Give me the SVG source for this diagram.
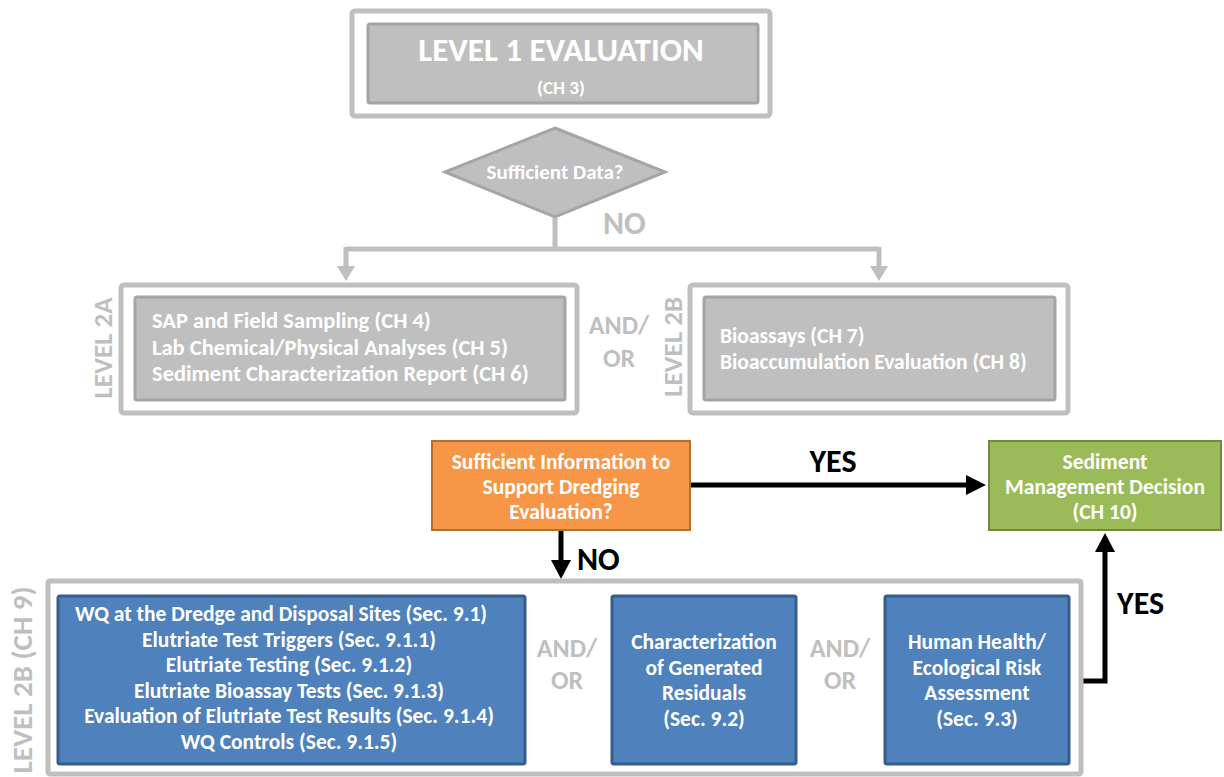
<svg xmlns="http://www.w3.org/2000/svg" width="1224" height="777" viewBox="0 0 1224 777">
<style>
text{font-family:"Carlito","Liberation Sans",Arial,sans-serif;font-weight:bold}
.w{fill:#ffffff}
.g{fill:#bfbfbf}
.k{fill:#000000}
.outer{fill:#ffffff;stroke:#bfbfbf;stroke-width:5}
.inner{fill:#bfbfbf;stroke:#a5a5a5;stroke-width:3}
.blue{fill:#4f81bd;stroke:#385d8a;stroke-width:3}
.c{text-anchor:middle}
.gl{fill:none;stroke:#bfbfbf;stroke-width:5}
.bl{fill:none;stroke:#000000;stroke-width:5}
.t{font-size:21.5px}
.t2{font-size:22.5px}
.t3{font-size:21.5px}
.lv{font-size:27px}
.ao{font-size:26px}
.big{font-size:32px}
</style>
<rect width="1224" height="777" fill="#ffffff"/>

<g id="level1">
<rect class="outer" x="352" y="11" width="418" height="105" rx="3"/>
<rect class="inner" x="368" y="24" width="390" height="79" rx="2"/>
<text class="w c" x="561" y="61" font-size="33">LEVEL 1 EVALUATION</text>
<text class="w c" x="561" y="94" font-size="19">(CH 3)</text>
</g>

<g id="decision1">
<polygon points="555,128 665,172 555,217 445,172" fill="#bfbfbf" stroke="#a5a5a5" stroke-width="3"/>
<text class="w c" x="555" y="179" font-size="21">Sufficient Data?</text>
</g>

<g id="connectors">
<path class="gl" d="M555,218 V249"/>
<path class="gl" d="M346,249 H879"/>
<path class="gl" d="M346,247 V268"/>
<polygon points="337,266 355,266 346,281" fill="#bfbfbf"/>
<path class="gl" d="M879,247 V268"/>
<polygon points="870,266 888,266 879,281" fill="#bfbfbf"/>
<text class="g big" x="603" y="234">NO</text>

<path class="bl" d="M691,485 H968"/>
<polygon points="966,475 986,485 966,495" fill="#000000"/>
<text class="k c big" x="833" y="472">YES</text>

<path class="bl" d="M561,531 V562"/>
<polygon points="551,560 571,560 561,579" fill="#000000"/>
<text class="k big" x="577" y="570">NO</text>

<path class="bl" d="M1082,681 H1105 V550"/>
<polygon points="1095,552 1115,552 1105,533" fill="#000000"/>
<text class="k big" x="1117" y="614">YES</text>
</g>

<g id="level2a">
<rect class="outer" x="121" y="285" width="456" height="128" rx="3"/>
<rect class="inner" x="135" y="297" width="430" height="103" rx="2"/>
<text class="w t2" x="152" y="328">SAP and Field Sampling (CH 4)</text>
<text class="w t2" x="152" y="354.5">Lab Chemical/Physical Analyses (CH 5)</text>
<text class="w t2" x="152" y="381">Sediment Characterization Report (CH 6)</text>
<text class="g c lv" transform="translate(112,348) rotate(-90)">LEVEL 2A</text>
</g>

<g id="andor1">
<text class="g c ao" x="619" y="334">AND/</text>
<text class="g c ao" x="619" y="367">OR</text>
</g>

<g id="level2b">
<rect class="outer" x="690" y="285" width="378" height="128" rx="3"/>
<rect class="inner" x="704" y="297" width="351" height="103" rx="2"/>
<text class="w t3" x="720" y="343">Bioassays (CH 7)</text>
<text class="w t3" x="720" y="369">Bioaccumulation Evaluation (CH 8)</text>
<text class="g c lv" transform="translate(682,347) rotate(-90)">LEVEL 2B</text>
</g>

<g id="decision2">
<rect x="432" y="441" width="258" height="89" fill="#f79646" stroke="#b66d31" stroke-width="2"/>
<text class="w c t" x="561" y="469">Sufficient Information to</text>
<text class="w c t" x="561" y="494">Support Dredging</text>
<text class="w c t" x="561" y="519">Evaluation?</text>
</g>

<g id="decision-final">
<rect x="989" y="441" width="232" height="89" fill="#9bbb59" stroke="#71893f" stroke-width="2"/>
<text class="w c t" x="1105" y="469">Sediment</text>
<text class="w c t" x="1105" y="494">Management Decision</text>
<text class="w c t" x="1105" y="519">(CH 10)</text>
</g>

<g id="level2b-ch9">
<rect class="outer" x="48" y="581" width="1033" height="193" rx="2"/>
<text class="g c" transform="translate(32,680) rotate(-90)" font-size="29">LEVEL 2B (CH 9)</text>
</g>

<g id="wq">
<rect class="blue" x="58" y="596" width="467" height="168" rx="2"/>
<text class="w c t" x="281" y="621">WQ at the Dredge and Disposal Sites (Sec. 9.1)</text>
<text class="w c t" x="289" y="647">Elutriate Test Triggers (Sec. 9.1.1)</text>
<text class="w c t" x="289" y="672">Elutriate Testing (Sec. 9.1.2)</text>
<text class="w c t" x="289" y="698">Elutriate Bioassay Tests (Sec. 9.1.3)</text>
<text class="w c t" x="289" y="723">Evaluation of Elutriate Test Results (Sec. 9.1.4)</text>
<text class="w c t" x="289" y="749">WQ Controls (Sec. 9.1.5)</text>
</g>

<g id="andor2">
<text class="g c ao" x="567" y="657">AND/</text>
<text class="g c ao" x="567" y="689">OR</text>
</g>

<g id="residuals">
<rect class="blue" x="612" y="596" width="184" height="168" rx="2"/>
<text class="w c t" x="704" y="649">Characterization</text>
<text class="w c t" x="704" y="675">of Generated</text>
<text class="w c t" x="704" y="700">Residuals</text>
<text class="w c t" x="704" y="726">(Sec. 9.2)</text>
</g>

<g id="andor3">
<text class="g c ao" x="840" y="657">AND/</text>
<text class="g c ao" x="840" y="689">OR</text>
</g>

<g id="risk">
<rect class="blue" x="885" y="596" width="184" height="168" rx="2"/>
<text class="w c t" x="977" y="649">Human Health/</text>
<text class="w c t" x="977" y="675">Ecological Risk</text>
<text class="w c t" x="977" y="700">Assessment</text>
<text class="w c t" x="977" y="726">(Sec. 9.3)</text>
</g>
</svg>
